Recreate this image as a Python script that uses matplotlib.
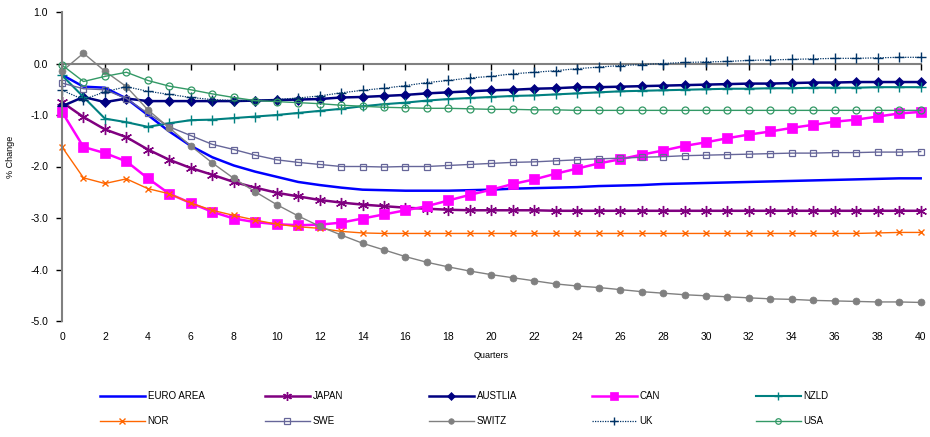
import matplotlib
matplotlib.use("Agg")
import matplotlib.pyplot as plt

plt.rcParams['font.family'] = ['Liberation Sans', 'DejaVu Sans']

quarters = list(range(0, 41))

euro_area = [-0.22, -0.45, -0.47, -0.68, -1.00, -1.32, -1.60, -1.82, -1.98, -2.10,
             -2.20, -2.30, -2.36, -2.41, -2.45, -2.46, -2.47, -2.47, -2.47, -2.46,
             -2.45, -2.43, -2.42, -2.41, -2.40, -2.38, -2.37, -2.36, -2.34, -2.33,
             -2.32, -2.31, -2.30, -2.29, -2.28, -2.27, -2.26, -2.25, -2.24, -2.23, -2.23]
japan = [-0.75, -1.04, -1.28, -1.43, -1.67, -1.87, -2.03, -2.16, -2.30, -2.41,
         -2.51, -2.58, -2.65, -2.70, -2.74, -2.77, -2.80, -2.82, -2.84, -2.85,
         -2.85, -2.85, -2.85, -2.86, -2.86, -2.86, -2.86, -2.86, -2.86, -2.86,
         -2.86, -2.86, -2.86, -2.86, -2.86, -2.86, -2.86, -2.86, -2.86, -2.86, -2.86]
austlia = [-0.83, -0.65, -0.75, -0.68, -0.73, -0.73, -0.73, -0.73, -0.73, -0.72,
           -0.71, -0.70, -0.69, -0.66, -0.65, -0.63, -0.61, -0.58, -0.56, -0.54,
           -0.52, -0.51, -0.49, -0.48, -0.46, -0.46, -0.45, -0.44, -0.43, -0.42,
           -0.41, -0.40, -0.39, -0.39, -0.38, -0.37, -0.37, -0.36, -0.36, -0.36, -0.36]
can = [-0.94, -1.62, -1.74, -1.90, -2.23, -2.53, -2.71, -2.88, -3.01, -3.08,
       -3.12, -3.14, -3.13, -3.09, -3.01, -2.93, -2.85, -2.77, -2.66, -2.55,
       -2.45, -2.34, -2.25, -2.14, -2.04, -1.94, -1.86, -1.77, -1.69, -1.60,
       -1.53, -1.45, -1.38, -1.32, -1.25, -1.19, -1.13, -1.09, -1.03, -0.97, -0.94]
nzld = [-0.23, -0.65, -1.07, -1.14, -1.23, -1.16, -1.10, -1.09, -1.06, -1.03,
        -1.00, -0.96, -0.92, -0.88, -0.83, -0.79, -0.76, -0.72, -0.69, -0.67,
        -0.65, -0.63, -0.62, -0.60, -0.58, -0.56, -0.54, -0.53, -0.52, -0.51,
        -0.50, -0.49, -0.49, -0.48, -0.48, -0.47, -0.47, -0.47, -0.46, -0.46, -0.46]
nor = [-1.62, -2.22, -2.33, -2.24, -2.43, -2.53, -2.71, -2.85, -2.95, -3.04,
       -3.12, -3.17, -3.20, -3.26, -3.29, -3.30, -3.30, -3.30, -3.30, -3.30,
       -3.30, -3.30, -3.30, -3.30, -3.30, -3.30, -3.30, -3.30, -3.30, -3.30,
       -3.30, -3.30, -3.30, -3.30, -3.30, -3.30, -3.30, -3.30, -3.29, -3.28, -3.28]
swe = [-0.38, -0.49, -0.51, -0.68, -0.97, -1.23, -1.40, -1.57, -1.67, -1.78,
       -1.87, -1.92, -1.96, -2.00, -2.00, -2.01, -2.00, -2.00, -1.98, -1.96,
       -1.94, -1.92, -1.91, -1.89, -1.87, -1.85, -1.84, -1.82, -1.81, -1.79,
       -1.78, -1.77, -1.76, -1.75, -1.74, -1.74, -1.73, -1.73, -1.72, -1.72, -1.71]
switz = [-0.15, 0.20, -0.15, -0.45, -0.90, -1.25, -1.60, -1.93, -2.23, -2.49,
         -2.74, -2.96, -3.16, -3.33, -3.49, -3.62, -3.75, -3.86, -3.95, -4.03,
         -4.10, -4.16, -4.22, -4.28, -4.32, -4.35, -4.39, -4.43, -4.46, -4.49,
         -4.51, -4.53, -4.55, -4.57, -4.58, -4.60, -4.61, -4.62, -4.63, -4.63, -4.64]
uk = [-0.52, -0.70, -0.55, -0.45, -0.54, -0.60, -0.66, -0.70, -0.72, -0.72,
      -0.70, -0.67, -0.63, -0.57, -0.52, -0.48, -0.43, -0.37, -0.33, -0.28,
      -0.25, -0.20, -0.17, -0.14, -0.10, -0.07, -0.04, -0.02, 0.00, 0.02,
      0.03, 0.04, 0.06, 0.07, 0.08, 0.09, 0.10, 0.10, 0.11, 0.12, 0.12]
usa = [-0.03, -0.35, -0.25, -0.17, -0.33, -0.44, -0.51, -0.59, -0.66, -0.72,
       -0.74, -0.76, -0.78, -0.81, -0.83, -0.85, -0.86, -0.87, -0.87, -0.88,
       -0.89, -0.89, -0.90, -0.90, -0.91, -0.91, -0.91, -0.91, -0.91, -0.91,
       -0.91, -0.91, -0.91, -0.91, -0.91, -0.91, -0.91, -0.91, -0.91, -0.91, -0.91]

series_names = ["EURO AREA", "JAPAN", "AUSTLIA", "CAN", "NZLD",
                "NOR", "SWE", "SWITZ", "UK", "USA"]
series_values = [euro_area, japan, austlia, can, nzld, nor, swe, switz, uk, usa]

x_ticks = list(range(0, 41, 2))
y_ticks = [1.0, 0.0, -1.0, -2.0, -3.0, -4.0, -5.0]

styles = {
    "EURO AREA": dict(color="#0000FF", lw=1.8, marker=None),
    "JAPAN": dict(color="#800080", lw=1.8, marker=(6, 2, 0), ms=8, mew=1.0),
    "AUSTLIA": dict(color="#000080", lw=1.8, marker="D", ms=5, mew=0.5),
    "CAN": dict(color="#FF00FF", lw=1.8, marker="s", ms=7.5, mew=0.5),
    "NZLD": dict(color="#008080", lw=1.5, marker="+", ms=7, mew=1.0),
    "NOR": dict(color="#FF6600", lw=1.0, marker="x", ms=5, mew=1.0),
    "SWE": dict(color="#666699", lw=1.0, marker="s", ms=5, mew=0.9, mfc="none"),
    "SWITZ": dict(color="#808080", lw=1.0, marker="o", ms=5, mew=0.5),
    "UK": dict(color="#003366", lw=0.9, ls=(0, (1, 1)), marker="+", ms=7, mew=1.0),
    "USA": dict(color="#339966", lw=1.0, marker="o", ms=5, mew=0.9, mfc="none"),
}

fig = plt.figure(figsize=(9.3, 4.37), dpi=100)
ax = fig.add_axes([62/930, 1-321/437, (920.7-62)/930, (321-12)/437])

lines = {}
for name, vals in zip(series_names, series_values):
    st = dict(styles[name])
    color = st.pop("color")
    lw = st.pop("lw")
    marker = st.pop("marker")
    ls = st.pop("ls", "-")
    kw = dict(color=color, lw=lw, ls=ls, label=name)
    if marker is not None:
        kw.update(marker=marker, markersize=st.pop("ms"), markeredgewidth=st.pop("mew"),
                  markeredgecolor=color, markerfacecolor=st.pop("mfc", color))
    ln, = ax.plot(quarters, vals, clip_on=False, **kw)
    lines[name] = ln

ax.set_xlim(0, 40)
ax.set_ylim(-5, 1)

for s in ["top", "right"]:
    ax.spines[s].set_visible(False)
ax.spines["left"].set_color("#808080")
ax.spines["left"].set_linewidth(1.5)
ax.spines["bottom"].set_position(("data", 0))
ax.spines["bottom"].set_color("#808080")
ax.spines["bottom"].set_linewidth(1.5)
ax.spines["bottom"].set_zorder(0.5)

ax.set_yticks(y_ticks)
ax.set_yticklabels([f"{v:.1f}" for v in y_ticks])
ax.tick_params(axis="y", direction="out", length=4, width=1, color="#000000",
               labelsize=7.5, pad=6)
ax.set_xticks(x_ticks)
ax.tick_params(axis="x", direction="out", length=4, width=1, color="#000000",
               labelbottom=False)

sec = ax.secondary_xaxis(0.0)
sec.set_xticks(x_ticks)
sec.set_xticklabels([str(t) for t in x_ticks])
sec.spines["bottom"].set_visible(False)
sec.tick_params(axis="x", length=0, pad=8, labelsize=7.5)

ax.set_ylabel("% Change", fontsize=6.5)
ax.yaxis.set_label_coords(-0.055, 0.53)
fig.text(491/930, 1-355/437, "Quarters", ha="center", va="center", fontsize=6.5)

col_x = [100, 265, 429, 592, 756]
row_y = [396, 421]
for c in range(5):
    for r in range(2):
        name = series_names[r*5 + c]
        fig.legend(handles=[lines[name]], labels=[name], loc="center left",
                   bbox_to_anchor=(col_x[c]/930, 1-row_y[r]/437),
                   frameon=False, fontsize=7, handlelength=4.6,
                   handletextpad=0.3, borderpad=0, borderaxespad=0,
                   markerscale=0.8)

fig.savefig("out.png", dpi=100)
